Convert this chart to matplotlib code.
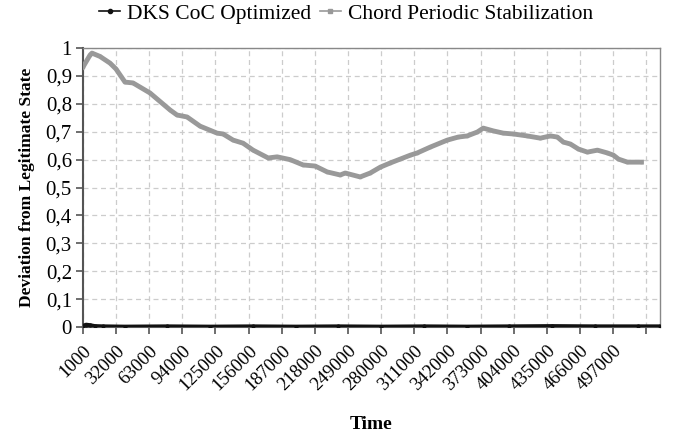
import matplotlib
matplotlib.use("Agg")
import matplotlib.pyplot as plt
from matplotlib.lines import Line2D

# Chord periodic stabilization
chord_time = [1000, 7600, 9400, 16900, 26300, 31900, 40300, 47800, 63700, 82500,
              89000, 98400, 110600, 126500, 132100, 141500, 150800, 160200, 174300,
              182700, 194900, 207000, 218300, 229500, 241700, 246400, 260400, 269800,
              279200, 288500, 297900, 307300, 313800, 326000, 341900, 352200, 360600,
              370000, 375600, 385000, 394300, 403700, 416800, 429000, 438400, 444900,
              450500, 457100, 464600, 473000, 482400, 491700, 497400, 502100, 510500,
              523600]
chord_dev = [0.932, 0.975, 0.982, 0.970, 0.946, 0.925, 0.878, 0.875, 0.839, 0.778,
             0.760, 0.753, 0.720, 0.695, 0.692, 0.670, 0.659, 0.634, 0.606,
             0.610, 0.600, 0.581, 0.577, 0.556, 0.545, 0.552, 0.538, 0.552,
             0.573, 0.588, 0.602, 0.616, 0.624, 0.645, 0.670, 0.681, 0.685,
             0.699, 0.713, 0.703, 0.695, 0.692, 0.685, 0.677, 0.685, 0.681,
             0.663, 0.656, 0.638, 0.627, 0.634, 0.624, 0.616, 0.602, 0.591,
             0.591]

# DKS CoC optimized stays close to zero
dks_time = [1000, 4000, 8000, 12000, 20000, 40000, 80000, 120000, 160000, 200000,
            240000, 280000, 320000, 360000, 400000, 440000, 480000, 520000, 541000]
dks_dev = [0.004, 0.008, 0.006, 0.003, 0.002, 0.001, 0.002, 0.001, 0.002, 0.001,
           0.002, 0.001, 0.002, 0.001, 0.002, 0.003, 0.002, 0.002, 0.002]

tick_values = list(range(1000, 529000, 31000))
tick_labels = [str(v) if v <= 497000 else "" for v in tick_values]
y_values = [0, 0.1, 0.2, 0.3, 0.4, 0.5, 0.6, 0.7, 0.8, 0.9, 1]
y_labels = ["0", "0,1", "0,2", "0,3", "0,4", "0,5", "0,6", "0,7", "0,8", "0,9", "1"]

plt.rcParams['font.family'] = ['Liberation Serif', 'DejaVu Serif']

fig = plt.figure(figsize=(6.78, 4.41), dpi=100)
ax = fig.add_axes([0.1224, 0.2585, 0.8511, 0.6325])

ax.plot(dks_time, dks_dev, color='#111111', lw=3, marker='o', ms=2,
        zorder=4)
ax.plot(chord_time, chord_dev, color='#999999', lw=3.5, marker='s', ms=2,
        zorder=3)

ax.set_xlim(1000, 541000)
ax.set_ylim(0, 1)
ax.set_xticks(tick_values)
ax.set_xticklabels(tick_labels, rotation=45, ha='right', rotation_mode='anchor',
                   fontsize=13.5)
ax.set_yticks(y_values)
ax.set_yticklabels(y_labels, fontsize=15)
ax.tick_params(axis='x', length=5, width=1.2, color='#555555', pad=6)
ax.tick_params(axis='y', length=5, width=1.2, color='#555555', pad=3)

ax.grid(True, linestyle=(0, (4, 3)), color='#cccccc', lw=0.9)
ax.set_axisbelow(True)
for side in ['left', 'bottom']:
    ax.spines[side].set_color('#555555')
    ax.spines[side].set_linewidth(1.5)
for side in ['top', 'right']:
    ax.spines[side].set_color('#888888')
    ax.spines[side].set_linewidth(1.0)

ax.set_ylabel('Deviation from Legitimate State', fontsize=12.5, fontweight='bold',
              labelpad=8)
ax.set_xlabel('Time', fontsize=14, fontweight='bold', labelpad=16)

handles = [
    Line2D([], [], color='#111111', lw=1.2, marker='o', ms=3),
    Line2D([], [], color='#999999', lw=1.2, marker='s', ms=3),
]
fig.legend(handles, ['DKS CoC Optimized', 'Chord Periodic Stabilization'],
           loc='upper center', bbox_to_anchor=(0.51, 1.035), ncol=2, frameon=False,
           fontsize=15.5, handlelength=1.0, handletextpad=0.3, columnspacing=0.4)

plt.savefig('out.png', dpi=100)
